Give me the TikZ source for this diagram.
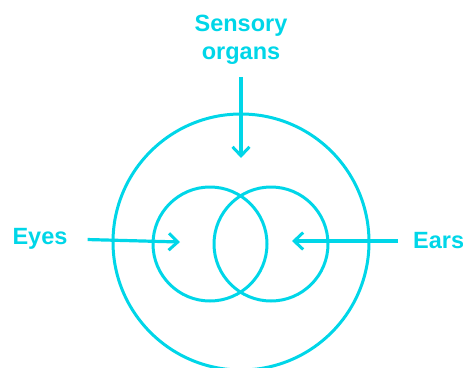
\documentclass[tikz,border=0pt]{standalone}
\usepackage{fontspec}
\setmainfont{Liberation Sans}
\usetikzlibrary{arrows.meta}
\definecolor{cy}{RGB}{0,214,232}
\begin{document}
\begin{tikzpicture}[x=1pt,y=-1pt,
  ring/.style={draw=cy,line width=3pt},
  lbl/.style={text=cy,font=\bfseries\fontsize{23.5}{28}\selectfont,inner sep=0pt,align=center},
  arr/.style={draw=cy,line width=3.2pt,-{Straight Barb[length=9pt,width=17pt,line width=3pt]}}]
\useasboundingbox (0,0) rectangle (463,367);
\node[ring,circle,minimum size=256pt,inner sep=0pt] (big) at (241,242) {};
\node[ring,circle,minimum size=114pt,inner sep=0pt] (left) at (210,244) {};
\node[ring,circle,minimum size=114pt,inner sep=0pt] (right) at (271,244) {};
\node[lbl] (sens) at (241,40) {Sensory\\organs};
\node[lbl] (eyes) at (40,239) {Eyes};
\node[lbl,anchor=west] (ears) at (413,241) {Ears};
\coordinate (stip) at (241,158);
\coordinate (etip) at (180,242);
\coordinate (atip) at (292,241);
\draw[arr,shorten <=12pt] (sens.south) -- (stip);
\draw[arr,shorten <=20pt] (eyes.east) -- (etip);
\draw[arr,shorten <=15pt] (ears.west) -- (atip);
\end{tikzpicture}
\end{document}
